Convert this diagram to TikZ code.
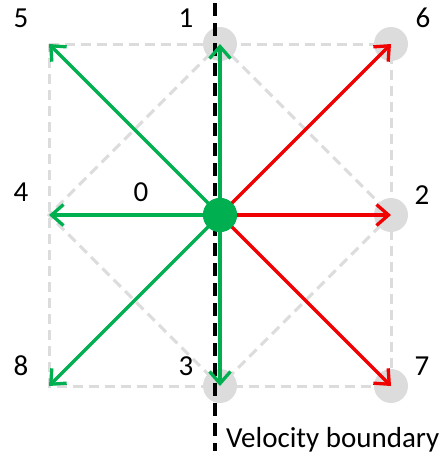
\documentclass[tikz,border=0pt]{standalone}
\usepackage{fontspec}
\setmainfont{Carlito}
\usetikzlibrary{arrows.meta}
\definecolor{vgreen}{HTML}{00B050}
\definecolor{vred}{HTML}{F00000}
\definecolor{lgray}{HTML}{DCDCDC}
\tikzset{
  gridline/.style={draw=lgray, line width=3pt, dash pattern=on 10pt off 6pt},
  boundary/.style={draw=black, line width=3.5pt, dash pattern=on 13pt off 7pt},
  gcirc/.style={circle, fill=lgray, minimum size=34pt, inner sep=0pt},
  vec/.style={line width=3.3pt, -{Straight Barb[length=12pt,width=21pt,line width=3.3pt]}},
  gvec/.style={vec, draw=vgreen},
  rvec/.style={vec, draw=vred},
  lbl/.style={font=\fontsize{29}{34}\selectfont, inner sep=0pt},
}
\begin{document}
\begin{tikzpicture}[x=1pt,y=-1pt]
\useasboundingbox (0,0) rectangle (442,459);
% grid points
\coordinate (p5) at (49,44);
\coordinate (p1) at (220,44);
\coordinate (p6) at (391,44);
\coordinate (p4) at (49,215);
\coordinate (p0) at (220,215);
\coordinate (p2) at (391,215);
\coordinate (p8) at (49,386);
\coordinate (p3) at (220,386);
\coordinate (p7) at (391,386);
% grey circles
\node[gcirc] (g1) at (p1) {};
\node[gcirc] (g6) at (p6) {};
\node[gcirc] (g2) at (p2) {};
\node[gcirc] (g3) at (p3) {};
\node[gcirc] (g7) at (p7) {};
% dashed square and diamond
\draw[gridline] (p5) -- (p1) -- (p6) -- (p2) -- (p7) -- (p3) -- (p8) -- (p4) -- cycle;
\draw[gridline] (p1) -- (p2) -- (p3) -- (p4) -- cycle;
% velocity boundary
\coordinate (bt) at (215,3);
\coordinate (bb) at (215,451);
\draw[boundary] (bt) -- (bb);
% centre
\node[circle, fill=vgreen, minimum size=34pt, inner sep=0pt] (c) at (p0) {};
% vectors
\draw[gvec] (c.center) -- (p5);
\draw[gvec] (c.center) -- (p1);
\draw[gvec] (c.center) -- (p4);
\draw[gvec] (c.center) -- (p8);
\draw[gvec] (c.center) -- (p3);
\draw[rvec] (c.center) -- (p6);
\draw[rvec] (c.center) -- (p2);
\draw[rvec] (c.center) -- (p7);
\node[circle, fill=vgreen, minimum size=34pt, inner sep=0pt] (c2) at (p0) {};
% labels
\node[lbl] (l5) at (21,18) {5};
\node[lbl] (l1) at (186,18) {1};
\node[lbl] (l6) at (423,18) {6};
\node[lbl] (l4) at (21,192) {4};
\node[lbl] (l0) at (141,192) {0};
\node[lbl] (l2) at (422,195) {2};
\node[lbl] (l8) at (21,366) {8};
\node[lbl] (l3) at (186,366) {3};
\node[lbl] (l7) at (422,366) {7};
\node[lbl, anchor=base west] (vb) at (226,447) {Velocity boundary};
\end{tikzpicture}
\end{document}
